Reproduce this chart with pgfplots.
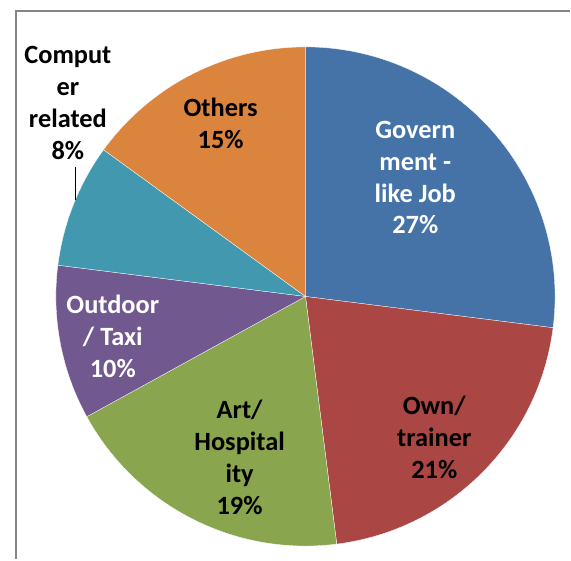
\documentclass[border=0pt]{standalone}
\usepackage{pgfplots}
\pgfplotsset{compat=1.18}
\usepackage{pgfplotstable}
\usepackage{fontspec}
\setmainfont{Carlito}
\definecolor{cgov}{HTML}{4572A7}
\definecolor{cown}{HTML}{AA4643}
\definecolor{cart}{HTML}{89A54E}
\definecolor{cout}{HTML}{71588F}
\definecolor{ccom}{HTML}{4198AF}
\definecolor{coth}{HTML}{DB843D}
\definecolor{frame}{HTML}{868686}
\tikzset{lbl/.style={font=\fontsize{26.5}{32}\selectfont\bfseries, align=center, inner sep=0pt}}
\pgfplotstableread[col sep=comma]{
value,col
27,cgov
21,cown
19,cart
10,cout
8,ccom
15,coth
}\piedata
\begin{document}
\begin{tikzpicture}
\begin{axis}[
  scale only axis, width=571bp, height=560bp,
  xmin=0, xmax=571, ymin=0, ymax=560,
  hide axis, clip=false,
]
\path (axis cs:0,0) rectangle (axis cs:571,560);
\draw[frame, line width=2bp] (axis cs:16,0) -- (axis cs:16,549) -- (axis cs:571,549);
\pgfplotsextra{
  \gdef\sa{90}
  \pgfplotstablegetrowsof{\piedata}
  \pgfmathtruncatemacro\lastrow{\pgfplotsretval-1}
  \foreach \r in {0,...,\lastrow}{
    \pgfplotstablegetelem{\r}{value}\of\piedata \let\v\pgfplotsretval
    \pgfplotstablegetelem{\r}{col}\of\piedata \let\c\pgfplotsretval
    \pgfmathsetmacro\ea{\sa-3.6*\v}
    \fill[\c, draw=white, line width=0.3bp] (axis cs:306,263) -- ++(\sa:250bp) arc[start angle=\sa, end angle=\ea, radius=250bp] -- cycle;
    \xdef\sa{\ea}
  }
}
\node[lbl, text=white] at (axis cs:416,382) {Govern\\ment -\\like Job\\27\%};
\node[lbl] at (axis cs:435,122) {Own/\\trainer\\21\%};
\node[lbl] at (axis cs:240,102) {Art/\\Hospital\\ity\\19\%};
\node[lbl, text=white] at (axis cs:113,223) {Outdoor\\/ Taxi\\10\%};
\node[lbl] at (axis cs:221,436) {Others\\15\%};
\node[lbl] at (axis cs:68,457) {Comput\\er\\related\\8\%};
\draw[black, line width=1.2bp] (axis cs:76,393) -- (axis cs:76,360);
\end{axis}
\end{tikzpicture}
\end{document}
